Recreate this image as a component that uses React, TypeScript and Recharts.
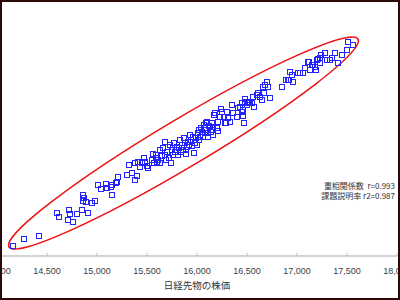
import { ScatterChart, Scatter, XAxis, YAxis, ReferenceArea } from "recharts";

// 日経先物 (x) と 現物 (y) の組
const futuresPrice = [
  14160, 14270, 14420, 14600, 14620, 14720, 14730, 14710, 14760, 14800, 14850, 14910,
  14860, 14870, 14890, 14860, 14950, 14980, 15010, 15040, 15090, 15100, 15140, 15150,
  15150, 15190, 15200, 15210, 15300, 15320, 15350, 15380, 15400, 15380, 15410, 15430,
  15450, 15470, 15480, 15500, 15510, 15550, 15560, 15570, 15600, 15590, 15590, 15610,
  15630, 15680, 15700, 15680, 15710, 15720, 15750, 15760, 15740, 15780, 15800, 15820,
  15850, 15860, 15880, 15900, 15910, 15940, 15960, 15980, 16010, 16020, 16030, 16050,
  16080, 16060, 16100, 16080, 15970, 15630, 15650, 15730, 15770, 15790, 15830, 15840,
  15870, 15890, 15920, 15930, 15950, 15990, 16020, 16040, 16070, 16090, 16120, 16140,
  16110, 15660, 15810, 15690, 15890, 16000, 16130, 16110, 16150, 16160, 16180, 16200,
  16210, 16230, 16250, 16280, 16300, 16310, 16330, 16350, 16360, 16400, 16410, 16430,
  16450, 16460, 16470, 16480, 16500, 16510, 16530, 16560, 16600, 16610, 16630, 16660,
  16670, 16270, 16290, 16240, 16170, 16150, 16210, 16160, 16090, 16450, 16460, 16550,
  16570, 16520, 16480, 16650, 16730, 16680, 16700, 16710, 16850, 16890, 16910, 16930,
  16950, 16960, 17010, 17030, 17060, 17080, 17110, 17130, 17150, 17180, 17200, 17230,
  17230, 17280, 17300, 17330, 17350, 17380, 17410, 17450, 17500, 17510, 17560, 17190,
  17160, 17210, 17240, 17120, 16920,
];

const spotPrice = [
  14100, 14170, 14200, 14430, 14390, 14460, 14420, 14360, 14340, 14420, 14460, 14430,
  14610, 14580, 14540, 14550, 14530, 14550, 14710, 14670, 14720, 14680, 14690, 14610,
  14710, 14730, 14740, 14790, 14810, 14910, 14830, 14760, 14800, 14930, 14940, 14890,
  14930, 14980, 14940, 14900, 14880, 14960, 15020, 14930, 14940, 14980, 15010, 14960,
  14930, 15010, 15040, 15140, 15090, 14980, 15060, 15010, 14930, 15040, 15090, 15080,
  15110, 15060, 15130, 15090, 15140, 15160, 15190, 15130, 15230, 15260, 15190, 15240,
  15280, 15190, 15340, 15230, 15030, 15060, 15000, 15110, 15130, 15060, 15160, 15040,
  15180, 15060, 15110, 15210, 15100, 15180, 15160, 15280, 15310, 15260, 15300, 15240,
  15190, 15080, 15010, 14960, 15020, 15110, 15290, 15230, 15260, 15210, 15430, 15280,
  15340, 15390, 15440, 15330, 15440, 15380, 15340, 15510, 15430, 15390, 15480, 15490,
  15530, 15460, 15330, 15540, 15510, 15530, 15530, 15590, 15610, 15630, 15590, 15690,
  15630, 15390, 15330, 15470, 15410, 15330, 15250, 15290, 15330, 15440, 15400, 15530,
  15490, 15540, 15570, 15560, 15580, 15710, 15740, 15690, 15690, 15760, 15760, 15840,
  15810, 15740, 15830, 15830, 15830, 15880, 15940, 15860, 15910, 15890, 15960, 15980,
  15930, 16030, 15960, 15960, 15980, 16030, 15930, 16010, 16060, 16140, 16110, 15860,
  15910, 15970, 16010, 15940, 15760,
];

const xTicks = [14000, 14500, 15000, 15500, 16000, 16500, 17000, 17500, 18000];

// 楕円の長軸の両端
const ellipseX = [14120, 17610];
const ellipseY = [14090, 16170];

const stats = ["重相関係数\u00a0\u00a0r=0.993", "課題説明率 r2=0.987"];

const points = futuresPrice.map((x, i) => ({ x, y: spotPrice[i] }));

const Square = (p: any) => (
  <rect x={p.cx - 2.5} y={p.cy - 2.5} width={5} height={5} fill="none" stroke="#2323ff" strokeWidth={1} />
);

const Ellipse = (p: any) => {
  const cx = p.x + p.width / 2;
  const cy = p.y + p.height / 2;
  const rx = Math.sqrt(p.width * p.width + p.height * p.height) / 2;
  const ang = (-Math.atan2(p.height, p.width) * 180) / Math.PI;
  return (
    <ellipse cx={cx} cy={cy} rx={rx} ry={24} transform={`rotate(${ang} ${cx} ${cy})`} fill="none" stroke="#ee1111" strokeWidth={1.5} />
  );
};

const Tick = (p: any) => (
  <g>
    <line x1={p.x} x2={p.x} y1={p.y} y2={p.y - 3} stroke="#b8b8b8" />
    <text x={p.x} y={p.y + 18} textAnchor="middle" fontSize={9} fill="#404040" fontFamily="Liberation Sans, Arial">
      {p.payload.value.toLocaleString("en-US")}
    </text>
  </g>
);

export default function App() {
  return (
    <div style={{ position: "absolute", left: 0, top: 0, width: 400, height: 300, boxSizing: "border-box", border: "2px solid #2e0806", overflow: "hidden", background: "#fff" }}>
      <div style={{ position: "absolute", left: -5, top: -2 }}>
        <ScatterChart width={410} height={300} margin={{ top: 6, right: 10, bottom: 0, left: 0 }}>
          <XAxis
            dataKey="x"
            type="number"
            domain={[14000, 18000]}
            ticks={xTicks}
            interval={0}
            height={44}
            tickSize={0}
            tickMargin={0}
            tickLine={false}
            tick={<Tick />}
            axisLine={{ stroke: "#c4c4c4", strokeWidth: 1.5 }}
            label={{ value: "日経先物の株価", position: "insideBottom", offset: 11, fontSize: 9.5, fill: "#333", fontFamily: "Noto Sans CJK JP" }}
          />
          <YAxis dataKey="y" type="number" domain={[14000, 16500]} hide />
          <ReferenceArea x1={ellipseX[0]} x2={ellipseX[1]} y1={ellipseY[0]} y2={ellipseY[1]} shape={<Ellipse />} ifOverflow="visible" />
          <Scatter data={points} shape={<Square />} isAnimationActive={false} />
        </ScatterChart>
      </div>
      <div style={{ position: "absolute", right: 3, top: 179, fontSize: 8, lineHeight: "10px", color: "#333", fontFamily: "Noto Sans CJK JP", whiteSpace: "pre", textAlign: "right" }}>
        {stats.map(s => (
          <div key={s}>{s}</div>
        ))}
      </div>
    </div>
  );
}
